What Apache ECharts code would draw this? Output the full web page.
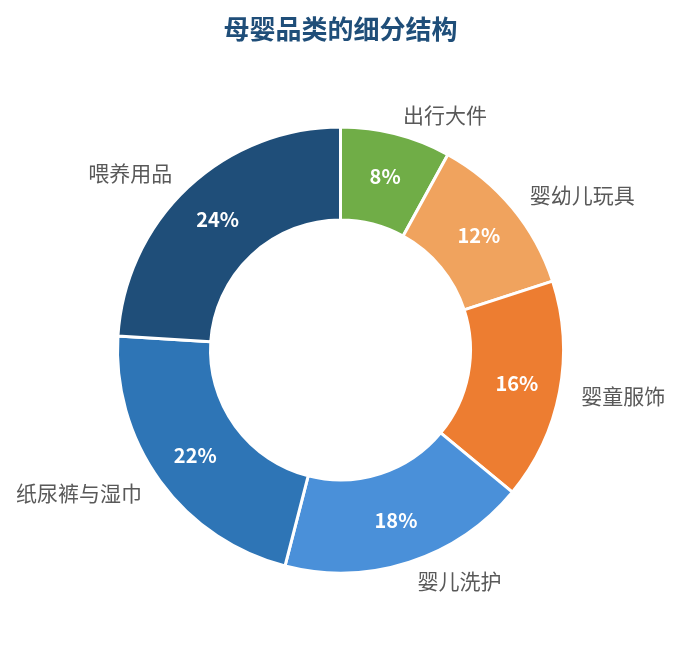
<!DOCTYPE html>
<html>
<head>
<meta charset="utf-8">
<script src="https://cdn.jsdelivr.net/npm/echarts@6/dist/echarts.min.js"></script>
<style>
	html, body { margin: 0; padding: 0; background: #fff; }
	#main { width: 681px; height: 645px; }
</style>
</head>
<body>
<div id="main"></div>
<script>
	// 品类与占比（顺时针，从12点方向开始）
	var categories = ['出行大件', '婴幼儿玩具', '婴童服饰', '婴儿洗护', '纸尿裤与湿巾', '喂养用品'];
	var shares = [8, 12, 16, 18, 22, 24];
	var colors = ['#70ad47', '#f0a35e', '#ed7d31', '#4a90d9', '#2e75b6', '#1f4e79'];

	var FONT = '"Noto Sans CJK SC", "Noto Sans", sans-serif';

	var data = categories.map(function(name, i) {
		return { name: name, value: shares[i] };
	});

	var myChart = echarts.init(document.getElementById('main'));
	var option = {
		color: colors,
		title: {
			text: '母婴品类的细分结构',
			left: 'center',
			top: 11,
			textStyle: {
				fontFamily: FONT,
				fontSize: 26,
				fontWeight: 'bold',
				color: '#1f4e79'
			}
		},
		series: [{
			// 扇区 + 外侧名称
			name: '品类',
			type: 'pie',
			center: ['50%', 350],
			radius: [130, 223],
			startAngle: 90,
			clockwise: true,
			avoidLabelOverlap: false,
			itemStyle: {
				borderColor: '#fff',
				borderWidth: 3
			},
			label: {
				show: true,
				position: 'outside',
				formatter: '{b}',
				fontFamily: FONT,
				fontSize: 21,
				color: '#595959',
				distanceToLabelLine: 2
			},
			labelLine: {
				show: false,
				length: 20,
				length2: 0
			},
			data: data
		}, {
			// 扇区内百分比
			name: '占比',
			type: 'pie',
			center: ['50%', 350],
			radius: [130, 223],
			startAngle: 90,
			clockwise: true,
			silent: true,
			itemStyle: {
				color: 'rgba(0,0,0,0)'
			},
			label: {
				show: true,
				position: 'inside',
				formatter: '{c}%',
				fontFamily: FONT,
				fontSize: 20,
				fontWeight: 'bold',
				color: '#fff'
			},
			labelLine: { show: false },
			data: data
		}]
	};
	myChart.setOption(option);
</script>
</body>
</html>
